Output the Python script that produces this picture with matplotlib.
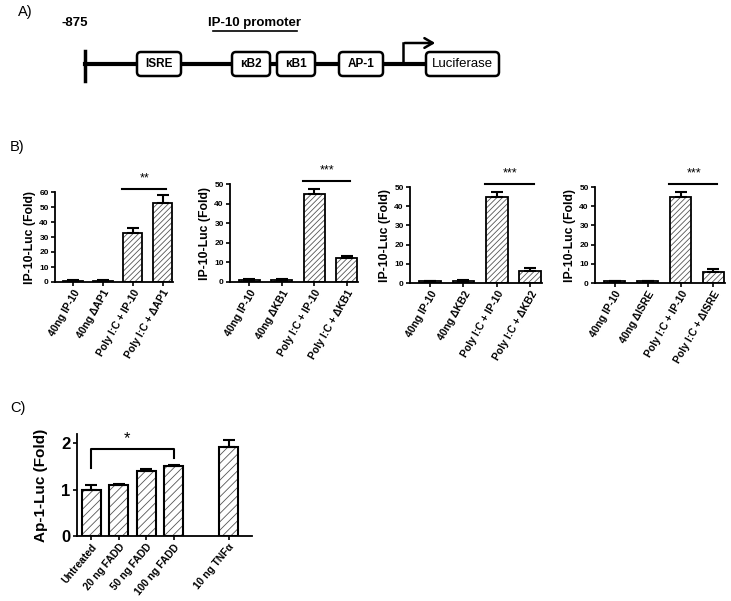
import numpy as np
import matplotlib
matplotlib.use('Agg')
import matplotlib.pyplot as plt
from matplotlib.patches import FancyBboxPatch

plt.rcParams['font.family'] = ['Liberation Sans', 'DejaVu Sans']
plt.rcParams['font.weight'] = 'bold'
plt.rcParams['axes.labelweight'] = 'bold'
plt.rcParams['hatch.linewidth'] = 0.6

W, H = 731, 601

# panel B data
b_labels = [
    ['40ng IP-10', '40ng ΔAP1', 'Poly I:C + IP-10', 'Poly I:C + ΔAP1'],
    ['40ng IP-10', '40ng ΔKB1', 'Poly I:C + IP-10', 'Poly I:C + ΔKB1'],
    ['40ng IP-10', '40ng ΔKB2', 'Poly I:C + IP-10', 'Poly I:C + ΔKB2'],
    ['40ng IP-10', '40ng ΔISRE', 'Poly I:C + IP-10', 'Poly I:C + ΔISRE'],
]
b_values = [
    [1.0, 1.0, 33.0, 53.0],
    [1.0, 1.0, 45.0, 12.0],
    [1.0, 1.0, 45.0, 6.0],
    [1.0, 1.0, 45.0, 5.5],
]
b_errors = [
    [0.2, 0.2, 3.0, 5.0],
    [0.3, 0.4, 2.5, 1.5],
    [0.3, 0.4, 2.5, 1.8],
    [0.3, 0.3, 2.5, 1.7],
]
b_ymax = [60, 50, 50, 50]
b_stars = ['**', '***', '***', '***']

# panel C data
c_labels = ['Untreated', '20 ng FADD', '50 ng FADD', '100 ng FADD', '10 ng TNFα']
c_pos = [0, 1, 2, 3, 5]
c_values = [1.0, 1.1, 1.4, 1.52, 1.93]
c_errors = [0.11, 0.03, 0.05, 0.02, 0.15]


def px_axes(fig, left, right, bottom, top):
    return fig.add_axes([left / W, 1 - bottom / H, (right - left) / W, (bottom - top) / H])


def hatched_bars(ax, x, y, err, width, hatch, lw=1.5):
    ax.bar(x, y, width=width, color='white', edgecolor='#555555', hatch=hatch, linewidth=0, zorder=2)
    ax.bar(x, y, width=width, color='none', edgecolor='black', linewidth=lw, zorder=3)
    lo = np.zeros(len(y))
    ax.errorbar(x, y, yerr=[lo, err], fmt='none', ecolor='black', elinewidth=1.5,
                capsize=4, capthick=1.5, zorder=4)


def style(ax):
    ax.spines['top'].set_visible(False)
    ax.spines['right'].set_visible(False)
    ax.spines['left'].set_linewidth(1.3)
    ax.spines['bottom'].set_linewidth(1.3)
    ax.tick_params(width=1.2, length=3, pad=1.5)


fig = plt.figure(figsize=(W / 100, H / 100), dpi=100)

# ---- overlay for panel A and letters
ov = fig.add_axes([0, 0, 1, 1])
ov.set_xlim(0, W)
ov.set_ylim(H, 0)
ov.axis('off')

ov.text(18, 12, 'A)', fontsize=10.5, weight='normal', va='center')
ov.text(10, 147, 'B)', fontsize=10.5, weight='normal', va='center')
ov.text(10, 408, 'C)', fontsize=10.5, weight='normal', va='center')

ov.text(75, 23, '-875', fontsize=9.5, va='center', ha='center')
ov.text(255, 23, 'IP-10 promoter', fontsize=9.5, va='center', ha='center')
ov.plot([213, 297], [31, 31], color='black', lw=1.2)

line_y = 64
ov.plot([85, 430], [line_y, line_y], color='black', lw=3, zorder=1)
ov.plot([85, 85], [51, 81], color='black', lw=2.5)
boxes = [('ISRE', 137, 181), ('κB2', 232, 270), ('κB1', 277, 315), ('AP-1', 339, 383)]
for name, x0, x1 in boxes:
    ov.add_patch(FancyBboxPatch((x0, 52), x1 - x0, 24, boxstyle='round,pad=0,rounding_size=4',
                                facecolor='white', edgecolor='black', lw=1.8, zorder=2))
    ov.text((x0 + x1) / 2, 64, name, fontsize=8.5, ha='center', va='center', zorder=3)
ov.add_patch(FancyBboxPatch((426, 52), 73, 24, boxstyle='round,pad=0,rounding_size=4',
                            facecolor='white', edgecolor='black', lw=1.8, zorder=2))
ov.text(462, 64, 'Luciferase', fontsize=9.5, weight='normal', ha='center', va='center', zorder=3)
ov.plot([403, 403], [line_y, 43], color='black', lw=1.8)
ov.annotate('', xy=(438, 43), xytext=(402, 43),
            arrowprops=dict(arrowstyle='->,head_length=0.6,head_width=0.35', lw=1.8, color='black'))

# ---- panel B
b_boxes = [(55, 173, 282, 192), (230, 358, 282, 184), (410, 542, 283, 187), (595, 725, 283, 187)]
for i in range(4):
    l, r, b, t = b_boxes[i]
    ax = px_axes(fig, l, r, b, t)
    x = np.arange(4)
    hatched_bars(ax, x, b_values[i], b_errors[i], 0.65, '//////', lw=1.3)
    ax.set_xlim(-0.6, 3.35)
    ax.set_ylim(0, b_ymax[i])
    ax.set_yticks(np.arange(0, b_ymax[i] + 1, 10))
    ax.set_xticks(x)
    ax.set_xticklabels(b_labels[i], rotation=60, ha='right', rotation_mode='anchor', fontsize=7.5)
    style(ax)
    ax.tick_params(axis='y', labelsize=6)
    ax.set_ylabel('IP-10-Luc (Fold)', fontsize=8.8, labelpad=2)
    yl = b_ymax[i] * 1.03
    ax.plot([1.65, 3.1], [yl, yl], color='black', lw=1.5, clip_on=False)
    ax.text(2.4, yl * 1.05, b_stars[i], ha='center', va='bottom', fontsize=9, weight='normal')

# ---- panel C
ax = px_axes(fig, 77, 252, 536, 434)
hatched_bars(ax, c_pos, c_values, c_errors, 0.68, '////', lw=1.5)
ax.set_xlim(-0.52, 5.85)
ax.set_ylim(0, 2.2)
ax.set_yticks([0, 1, 2])
ax.set_xticks(c_pos)
ax.set_xticklabels(c_labels, rotation=50, ha='right', rotation_mode='anchor', fontsize=7.4)
style(ax)
ax.tick_params(axis='y', labelsize=12)
ax.set_ylabel('Ap-1-Luc (Fold)', fontsize=11)
ax.yaxis.set_label_coords((48 - 77) / 175, 0.5)
ax.plot([0, 0, 3, 3], [1.46, 1.87, 1.87, 1.68], color='black', lw=1.5)
ax.text(1.3, 1.93, '*', ha='center', va='bottom', fontsize=12, weight='normal')

fig.savefig('out.png', dpi=100)
